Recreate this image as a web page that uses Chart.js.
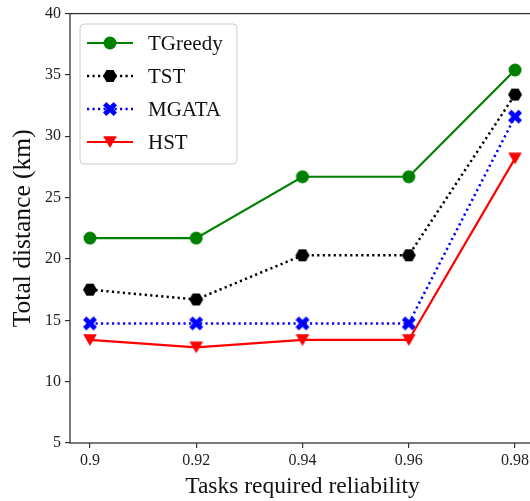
<!DOCTYPE html>
<html>
<head>
<meta charset="utf-8">
<script src="https://cdn.jsdelivr.net/npm/chart.js@4/dist/chart.umd.min.js"></script>
<style>
  html, body { margin: 0; padding: 0; background: #fff; overflow: hidden; }
  #wrap { width: 550px; height: 501px; }
</style>
</head>
<body>
<div id="wrap"><canvas id="distanceChart" width="550" height="501"></canvas></div>
<script>
const reliability = [0.9, 0.92, 0.94, 0.96, 0.98];
const tickLabels = ['0.9', '0.92', '0.94', '0.96', '0.98'];
const seriesNames = ['TGreedy', 'TST', 'MGATA', 'HST'];
const tgreedyKm = [21.7, 21.7, 26.7, 26.7, 35.4];
const tstKm = [17.5, 16.7, 20.3, 20.3, 33.4];
const mgataKm = [14.75, 14.75, 14.75, 14.75, 31.6];
const hstKm = [13.4, 12.8, 13.4, 13.4, 28.2];

const FONT = "'Liberation Serif', 'DejaVu Serif', serif";

function makeMarker(draw) {
  const c = document.createElement('canvas');
  c.width = 18;
  c.height = 18;
  const g = c.getContext('2d');
  g.translate(9, 9);
  draw(g);
  return c;
}

const circleMarker = makeMarker(g => {
  g.fillStyle = '#008000';
  g.beginPath();
  g.arc(0, 0, 6.5, 0, Math.PI * 2);
  g.fill();
});

const hexMarker = makeMarker(g => {
  g.fillStyle = '#000';
  g.beginPath();
  for (let i = 0; i < 6; i++) {
    const a = i * Math.PI / 3;
    const px = 7 * Math.cos(a), py = 7 * Math.sin(a);
    if (i === 0) g.moveTo(px, py); else g.lineTo(px, py);
  }
  g.closePath();
  g.fill();
});

const xMarker = makeMarker(g => {
  g.fillStyle = '#0000ff';
  g.rotate(Math.PI / 4);
  g.fillRect(-7.5, -2.4, 15, 4.8);
  g.fillRect(-2.4, -7.5, 4.8, 15);
});

const triMarker = makeMarker(g => {
  g.fillStyle = '#ff0000';
  g.beginPath();
  g.moveTo(-6.8, -5.8);
  g.lineTo(6.8, -5.8);
  g.lineTo(0, 6);
  g.closePath();
  g.fill();
});

function toPoints(values) {
  return values.map((v, i) => ({ x: reliability[i], y: v }));
}

const datasets = [
  { label: seriesNames[0], data: toPoints(tgreedyKm), borderColor: '#008000', borderWidth: 2.2, pointStyle: circleMarker, order: 4 },
  { label: seriesNames[1], data: toPoints(tstKm), borderColor: '#000000', borderWidth: 2.5, borderDash: [2.2, 3.3], pointStyle: hexMarker, order: 3 },
  { label: seriesNames[2], data: toPoints(mgataKm), borderColor: '#0000ff', borderWidth: 2.5, borderDash: [2.2, 3.3], pointStyle: xMarker, order: 2 },
  { label: seriesNames[3], data: toPoints(hstKm), borderColor: '#ff0000', borderWidth: 2.2, pointStyle: triMarker, order: 1 }
];
datasets.forEach(d => {
  d.fill = false;
  d.tension = 0;
  d.pointRadius = 7;
  d.backgroundColor = d.borderColor;
});

// frame on all four sides, like matplotlib spines
const framePlugin = {
  id: 'frame',
  afterDraw(chart) {
    const { ctx, chartArea } = chart;
    ctx.save();
    ctx.strokeStyle = '#333';
    ctx.lineWidth = 1.3;
    ctx.strokeRect(chartArea.left, chartArea.top, chartArea.right - chartArea.left, chartArea.bottom - chartArea.top);
    ctx.restore();
  }
};

// legend box in the upper left
const legendPlugin = {
  id: 'boxLegend',
  afterDraw(chart) {
    const ctx = chart.ctx;
    const bx = 80, by = 24, bw = 157, bh = 140;
    ctx.save();
    ctx.beginPath();
    ctx.roundRect(bx, by, bw, bh, 4);
    ctx.fillStyle = 'rgba(255,255,255,0.85)';
    ctx.fill();
    ctx.strokeStyle = '#cccccc';
    ctx.lineWidth = 1;
    ctx.stroke();
    chart.data.datasets.forEach((ds, i) => {
      const y = 43 + i * 33;
      ctx.beginPath();
      ctx.setLineDash(ds.borderDash || []);
      ctx.strokeStyle = ds.borderColor;
      ctx.lineWidth = ds.borderWidth;
      ctx.moveTo(87, y);
      ctx.lineTo(133, y);
      ctx.stroke();
      ctx.setLineDash([]);
      const m = ds.pointStyle;
      ctx.drawImage(m, 110 - m.width / 2, y - m.height / 2);
      ctx.fillStyle = '#111';
      ctx.font = '21px ' + FONT;
      ctx.textBaseline = 'middle';
      ctx.textAlign = 'left';
      ctx.fillText(ds.label, 148, y + 1);
    });
    ctx.restore();
  }
};

new Chart(document.getElementById('distanceChart'), {
  type: 'line',
  data: { datasets: datasets },
  options: {
    responsive: false,
    animation: false,
    layout: { padding: { top: 13, right: 15, left: 0, bottom: 0 } },
    plugins: { legend: { display: false }, tooltip: { enabled: false } },
    scales: {
      x: {
        type: 'linear',
        min: 0.89624,
        max: 0.98376,
        afterBuildTicks: scale => { scale.ticks = reliability.map(v => ({ value: v })); },
        afterFit: scale => { scale.height = 58; },
        border: { display: false },
        grid: { drawOnChartArea: false, drawTicks: true, tickLength: 5, color: '#333', lineWidth: 1.2 },
        ticks: {
          color: '#222',
          font: { family: FONT, size: 16 },
          padding: 3,
          maxRotation: 0,
          autoSkip: false,
          callback: (value, index) => tickLabels[index]
        },
        title: {
          display: true,
          text: 'Tasks required reliability',
          color: '#111',
          font: { family: FONT, size: 23.5 },
          padding: { top: 0, bottom: 0 }
        }
      },
      y: {
        min: 5,
        max: 40,
        afterFit: scale => { scale.width = 70; },
        border: { display: false },
        grid: { drawOnChartArea: false, drawTicks: true, tickLength: 5, color: '#333', lineWidth: 1.2 },
        ticks: {
          stepSize: 5,
          color: '#222',
          font: { family: FONT, size: 16 },
          padding: 4
        },
        title: {
          display: true,
          text: 'Total distance (km)',
          color: '#111',
          font: { family: FONT, size: 25.5 },
          padding: { top: 8, bottom: 0 }
        }
      }
    }
  },
  plugins: [framePlugin, legendPlugin]
});
</script>
</body>
</html>
